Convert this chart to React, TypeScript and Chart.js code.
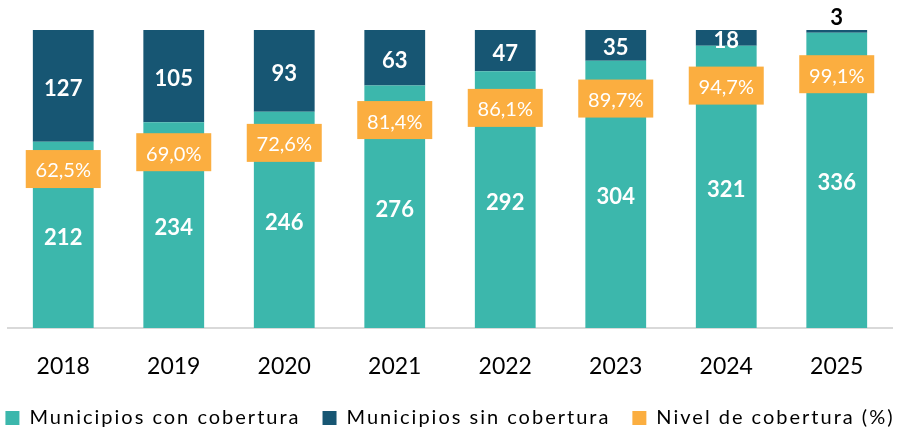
import React, { useEffect, useRef } from "react";
import { Chart, registerables } from "chart.js";

Chart.register(...registerables);

const years = ["2018", "2019", "2020", "2021", "2022", "2023", "2024", "2025"];
const conCobertura = [212, 234, 246, 276, 292, 304, 321, 336];
const sinCobertura = [127, 105, 93, 63, 47, 35, 18, 3];
const nivelCobertura = [62.5, 69.0, 72.6, 81.4, 86.1, 89.7, 94.7, 99.1];

const TEAL = "#3CB7AC";
const NAVY = "#175673";
const ORANGE = "#FBAE40";
const FONT = "Lato, 'Open Sans', sans-serif";
const PAD_BOTTOM = -6;
const X_AXIS_HEIGHT = 58;
const LEGEND_SPACING = "2px";

const labelPlugin = {
  id: "customLabels",
  afterInit(chart: any) {
    const lg = chart.legend;
    if (!lg) return;
    const ctx = chart.ctx;
    const origFit = lg.fit.bind(lg);
    const origDraw = lg.draw.bind(lg);
    lg.fit = function () {
      const mw = lg.maxWidth;
      lg.maxWidth = mw + 80;
      ctx.save();
      (ctx as any).letterSpacing = LEGEND_SPACING;
      origFit();
      ctx.restore();
      (ctx as any).letterSpacing = "0px";
      lg.maxWidth = mw;
      lg.width = Math.min(lg.width, mw);
    };
    lg.draw = function () {
      const l = lg.left;
      const r = lg.right;
      lg.left = l - 40;
      lg.right = r + 40;
      ctx.save();
      (ctx as any).letterSpacing = LEGEND_SPACING;
      origDraw();
      ctx.restore();
      (ctx as any).letterSpacing = "0px";
      lg.left = l;
      lg.right = r;
    };
  },
  afterDatasetsDraw(chart: any) {
    const ctx = chart.ctx;
    ctx.save();
    (ctx as any).letterSpacing = "0px";
    ctx.textAlign = "center";
    ctx.textBaseline = "middle";
    [0, 1].forEach((di) => {
      const meta = chart.getDatasetMeta(di);
      const data = chart.data.datasets[di].data as number[];
      meta.data.forEach((el: any, i: number) => {
        const v = data[i];
        const top = el.y;
        const base = el.base;
        const h = Math.abs(base - top);
        ctx.font = `bold 22px ${FONT}`;
        if (h < 14) {
          ctx.fillStyle = "#000";
          ctx.fillText(String(v), el.x, top - 12);
        } else {
          ctx.fillStyle = "#fff";
          ctx.fillText(String(v), el.x, (top + base) / 2 + 3);
        }
      });
    });
    const meta = chart.getDatasetMeta(2);
    const data = chart.data.datasets[2].data as number[];
    meta.data.forEach((el: any, i: number) => {
      const w = 75;
      const h = 38;
      const cx = el.x;
      const cy = el.y + 3;
      ctx.fillStyle = ORANGE;
      ctx.fillRect(cx - w / 2, cy - h / 2, w, h);
      ctx.fillStyle = "#fff";
      ctx.font = `20px ${FONT}`;
      ctx.fillText(data[i].toFixed(1).replace(".", ",") + "%", cx, cy + 2);
    });
    ctx.restore();
  },
};

export default function App() {
  const ref = useRef<HTMLCanvasElement>(null);
  useEffect(() => {
    document.body.style.margin = "0";
    const canvas = ref.current!;
    const chart = new Chart(canvas, {
      type: "bar",
      data: {
        labels: years,
        datasets: [
          {
            label: "Municipios con cobertura",
            data: conCobertura,
            backgroundColor: TEAL,
            borderWidth: 0,
            stack: "s",
            yAxisID: "y",
            order: 2,
          },
          {
            label: "Municipios sin cobertura",
            data: sinCobertura,
            backgroundColor: NAVY,
            borderWidth: 0,
            stack: "s",
            yAxisID: "y",
            order: 2,
          },
          {
            type: "line",
            label: "Nivel de cobertura (%)",
            data: nivelCobertura,
            backgroundColor: ORANGE,
            borderColor: ORANGE,
            borderWidth: 0,
            showLine: false,
            pointRadius: 0,
            yAxisID: "y2",
            order: 1,
          } as any,
        ],
      },
      options: {
        responsive: false,
        animation: false,
        devicePixelRatio: 1,
        layout: { padding: { top: 30, left: 8, right: 9, bottom: PAD_BOTTOM } },
        datasets: {
          bar: { categoryPercentage: 1, barPercentage: 0.55 },
        },
        plugins: {
          legend: {
            position: "bottom",
            labels: {
              boxWidth: 14,
              boxHeight: 14,
              padding: 22,
              color: "#000",
              font: { family: FONT, size: 20 },
              sort: (a: any, b: any) => a.datasetIndex - b.datasetIndex,
            },
          },
          tooltip: { enabled: false },
        },
        scales: {
          x: {
            stacked: true,
            grid: { display: false },
            border: { display: true, color: "#d9d9d9", width: 2 },
            ticks: {
              color: "#000",
              font: { family: FONT, size: 23 },
              padding: 17,
            },
            afterFit: (scale: any) => {
              scale.height = X_AXIS_HEIGHT;
            },
          },
          y: {
            stacked: true,
            min: 0,
            max: 339,
            display: false,
          },
          y2: {
            min: 0,
            max: 115,
            display: false,
          },
        },
      },
      plugins: [labelPlugin],
    });
    return () => chart.destroy();
  }, []);
  return <canvas ref={ref} width={901} height={432} style={{ display: "block" }} />;
}
